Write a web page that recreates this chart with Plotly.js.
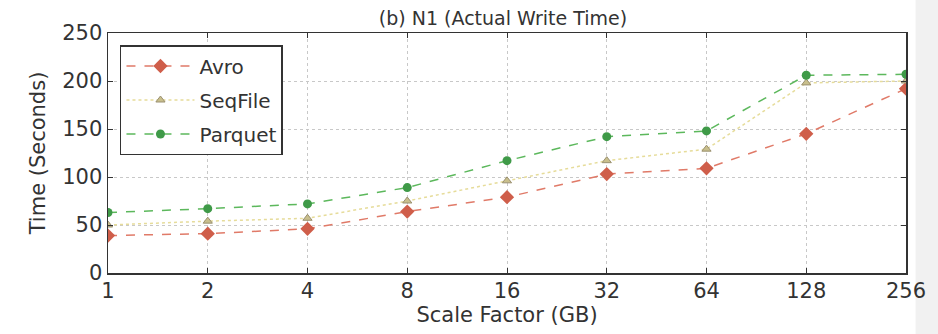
<!DOCTYPE html>
<html><head><meta charset="utf-8">
<script src="https://cdn.plot.ly/plotly-3.0.1.min.js"></script>
<style>html,body{margin:0;padding:0;background:#fff}#c{width:938px;height:334px}</style>
</head><body><div id="c"></div>
<script>
const scaleFactors = [1, 2, 4, 8, 16, 32, 64, 128, 256];
const tickLabels = ["1", "2", "4", "8", "16", "32", "64", "128", "256"];
const avro    = [39, 41, 46, 64, 79, 103, 109, 145, 192];
const seqFile = [50, 54, 57, 75, 96, 117, 129, 198, 200];
const parquet = [63, 67, 72, 89, 117, 142, 148, 206, 207];

const font = 'DejaVu Sans, sans-serif';
const traces = [
  {x: scaleFactors, y: avro, name: 'Avro', legendgroup: 'a', mode: 'lines+markers',
   line: {color: '#e07a68', dash: 'dash', width: 1.5},
   marker: {symbol: 'diamond', size: 11, color: '#cf5e4a'}},
  {x: scaleFactors, y: seqFile, name: 'SeqFile', legendgroup: 's', mode: 'lines+markers',
   line: {color: '#e6dc9a', dash: 'dot', width: 1.5},
   marker: {symbol: 'triangle-up', size: 8, color: '#c9bf8c', line: {color: '#9a9070', width: 1}}},
  {x: scaleFactors, y: parquet, name: 'Parquet', legendgroup: 'p', mode: 'lines+markers',
   line: {color: '#5cb85c', dash: 'dash', width: 1.5},
   marker: {symbol: 'circle', size: 9, color: '#3f9a48'}}
];
const axisCommon = {
  showline: true, mirror: 'ticks', linecolor: '#333', linewidth: 1.5,
  ticks: 'inside', ticklen: 5, tickcolor: '#333',
  showgrid: true, gridcolor: '#c8c8c8', griddash: 'dot', gridwidth: 1,
  zeroline: false, tickfont: {family: font, size: 21, color: '#333'}
};
const layout = {
  width: 938, height: 334,
  margin: {l: 108, r: 32, t: 33, b: 61},
  paper_bgcolor: '#fff', plot_bgcolor: '#fff',
  title: {text: '(b) N1 (Actual Write Time)', xref: 'paper', x: 0.495, xanchor: 'center', y: 0.945, yanchor: 'middle',
          font: {family: font, size: 19, color: '#333'}},
  xaxis: Object.assign({}, axisCommon, {
    type: 'log', range: [0, Math.log10(256)],
    tickvals: scaleFactors, ticktext: tickLabels, ticklabelstandoff: -2,
    title: {text: 'Scale Factor (GB)', standoff: 0, font: {family: font, size: 21, color: '#333'}}
  }),
  yaxis: Object.assign({}, axisCommon, {
    range: [0, 250], dtick: 50,
    title: {text: 'Time (Seconds)', standoff: 11, font: {family: font, size: 21, color: '#333'}}
  }),
  legend: {x: 0.015, y: 0.95, xanchor: 'left', yanchor: 'top',
           bgcolor: '#fff', bordercolor: '#333', borderwidth: 1.5,
           font: {family: font, size: 20, color: '#333'}, tracegroupgap: 5, itemwidth: 68},
  shapes: [{type: 'rect', xref: 'paper', yref: 'paper', x0: 1.012, x1: 1.05, y0: -0.3, y1: 1.2,
            fillcolor: '#f1f1f1', line: {width: 0}, layer: 'below'}],
  showlegend: true
};
Plotly.newPlot('c', traces, layout, {displayModeBar: false, staticPlot: true});
</script></body></html>
